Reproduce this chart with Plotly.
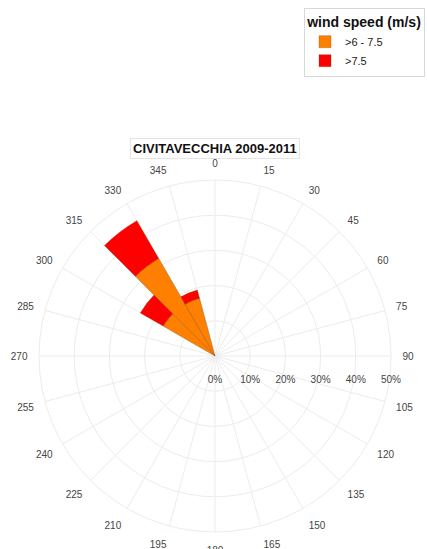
import plotly.graph_objects as go

# 15-degree direction sectors, centred on the middle of each bin
sector_centres = [7.5 + 15 * i for i in range(24)]
sector_width = 15

# Frequency (%) per sector for each wind-speed class
freq_6_75 = [0, 0, 0, 0, 0, 0, 0, 0, 0, 0, 0, 0,
             0, 0, 0, 0, 0, 0, 0, 0, 17.0, 32.0, 17.0, 0]
freq_over_75 = [0, 0, 0, 0, 0, 0, 0, 0, 0, 0, 0, 0,
                0, 0, 0, 0, 0, 0, 0, 0, 7.5, 12.4, 2.4, 0]

class_names = [">6 - 7.5", ">7.5"]
class_colors = ["#FF8000", "#FF0000"]

direction_ticks = list(range(0, 360, 15))
radial_ticks = [0, 10, 20, 30, 40, 50]

fig = go.Figure()
for name, vals, col in zip(class_names, [freq_6_75, freq_over_75], class_colors):
    fig.add_trace(go.Barpolar(
        r=vals,
        theta=sector_centres,
        width=[sector_width] * len(vals),
        name=name,
        marker=dict(color=col, line=dict(color="rgba(120,60,0,0.5)", width=0.6)),
    ))

W, H = 427, 549
cx, cy, R = 215, 356, 176

fig.update_layout(
    width=W, height=H,
    margin=dict(l=0, r=0, t=0, b=0),
    paper_bgcolor="white",
    font=dict(family="Liberation Sans, Arial, sans-serif", color="#444"),
    polar=dict(
        domain=dict(x=[(cx - R) / W, (cx + R) / W],
                    y=[(H - cy - R) / H, (H - cy + R) / H]),
        bgcolor="white",
        barmode="stack",
        angularaxis=dict(
            direction="clockwise", rotation=90,
            tickmode="array", tickvals=direction_ticks,
            ticktext=[str(t) for t in direction_ticks],
            tickfont=dict(size=10, color="#444"),
            showline=True, linecolor="#ececec", linewidth=1,
            gridcolor="#ececec", gridwidth=1,
            ticks="outside", ticklen=9, tickcolor="rgba(0,0,0,0)",
        ),
        radialaxis=dict(
            range=[0, 50], tickmode="array", tickvals=radial_ticks,
            ticktext=[f"{t}%" for t in radial_ticks],
            angle=0, tickangle=0, side="clockwise",
            tickfont=dict(size=10, color="#444"),
            showline=False, gridcolor="#ececec", gridwidth=1,
            ticks="outside", ticklen=14, tickcolor="rgba(0,0,0,0)",
        ),
    ),
    legend=dict(
        title=dict(text="<b>wind speed (m/s)</b>", side="top center",
                   font=dict(size=14, color="#111")),
        font=dict(size=11, color="#222"),
        x=0.712, y=1 - 77 / H, xanchor="left", yanchor="bottom",
        bordercolor="#d8d8d8", borderwidth=1, bgcolor="white",
        tracegroupgap=0, itemwidth=30,
    ),
    annotations=[dict(
        text="<b>CIVITAVECCHIA 2009-2011</b>",
        x=cx / W, y=1 - 148 / H, xref="paper", yref="paper",
        xanchor="center", yanchor="middle",
        showarrow=False, font=dict(size=13, color="#111"),
        bordercolor="#e4e4e4", borderwidth=1, borderpad=2,
    )],
)

fig.write_html("out.html")
